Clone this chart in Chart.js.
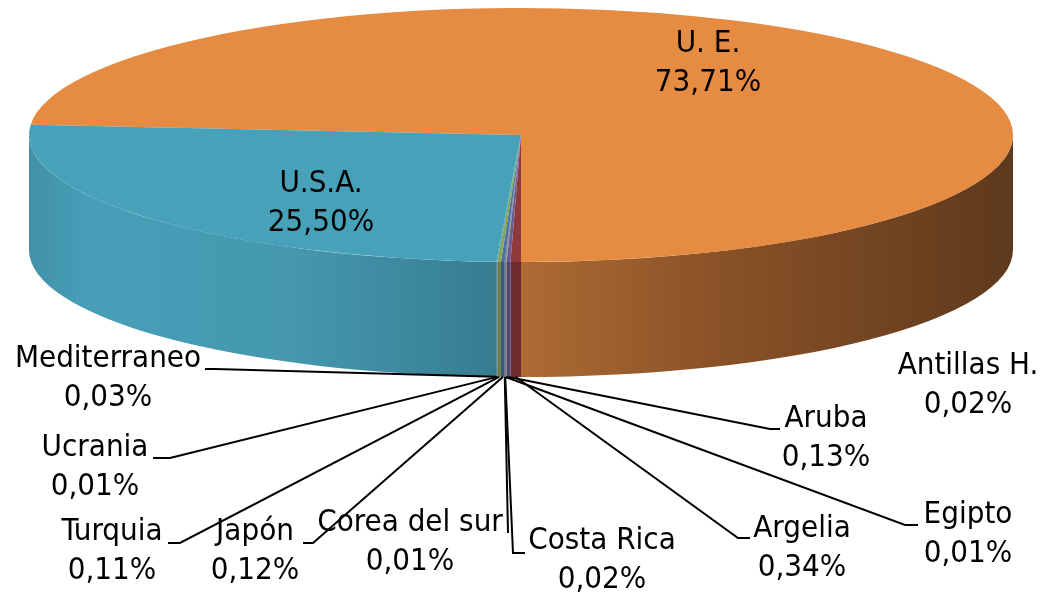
<!DOCTYPE html>
<html>
<head>
<meta charset="utf-8">
<script src="https://cdn.jsdelivr.net/npm/chart.js@4.4.1/dist/chart.umd.min.js"></script>
<style>
    html, body { margin: 0; padding: 0; background: #fff; }
    canvas { display: block; }
</style>
</head>
<body>
<canvas id="pieChart" width="1056" height="596"></canvas>
<script>
// --- DATA (clockwise, starting with U.E.) ---
const countries = ['U. E.', 'Argelia', 'Aruba', 'Antillas H.', 'Egipto', 'Costa Rica', 'Corea del sur', 'Japón', 'Turquia', 'Ucrania', 'Mediterraneo', 'U.S.A.'];
const shares = [73.71, 0.34, 0.13, 0.02, 0.01, 0.02, 0.01, 0.12, 0.11, 0.01, 0.03, 25.50];

// --- STYLE ---
const topColors = ['#E58B42', '#8E3A3A', '#6E5A94', '#7F9B4A', '#5B4A80', '#3F6EA0', '#A04440', '#4F6FA8', '#86A84E', '#6A5890', '#3D95AC', '#47A1B9'];
const sideColors = ['#A5652F', '#6E2B2B', '#54446F', '#61763A', '#463963', '#30547A', '#7A3330', '#3C5581', '#66803B', '#51436E', '#2F7385', '#377B8E'];
const FONT = '31px "DejaVu Sans Condensed", "DejaVu Sans", sans-serif';
const LINE_GAP = 39;

// pie drawn as an ellipse on the page, with a wall of `depth` px
const PIE = { cx: 521, cy: 135, rx: 492, ry: 127, depth: 115 };

// where each label sits (centre of first line) and its leader elbows
const labelSpots = {
    'U. E.': { x: 708, y: 44 },
    'U.S.A.': { x: 321, y: 184 },
    'Mediterraneo': { x: 108, y: 359, leader: [[215, 369], [205, 369]] },
    'Ucrania': { x: 95, y: 448, leader: [[170, 458], [153, 458]] },
    'Turquia': { x: 112, y: 532, leader: [[180, 543], [168, 543]] },
    'Japón': { x: 255, y: 532, leader: [[313, 543], [303, 543]] },
    'Corea del sur': { x: 410, y: 523, leader: [[508, 533]] },
    'Costa Rica': { x: 602, y: 541, leader: [[513, 553], [525, 553]] },
    'Argelia': { x: 802, y: 529, leader: [[738, 538], [750, 538]] },
    'Egipto': { x: 968, y: 515, leader: [[905, 525], [918, 525]] },
    'Aruba': { x: 826, y: 419, leader: [[770, 429], [780, 429]] },
    'Antillas H.': { x: 968, y: 366 }
};

const total = shares.reduce((a, b) => a + b, 0);

function fmtPct(v) {
    return v.toFixed(2).replace('.', ',') + '%';
}

function wallFill(ctx, i) {
    if (i === 0) {
        const g = ctx.createLinearGradient(PIE.cx, 0, PIE.cx + PIE.rx, 0);
        g.addColorStop(0, '#AD6B34');
        g.addColorStop(0.4, '#8A5227');
        g.addColorStop(1, '#5E391C');
        return g;
    }
    if (i === shares.length - 1) {
        const g = ctx.createLinearGradient(PIE.cx - PIE.rx, 0, PIE.cx, 0);
        g.addColorStop(0, '#4190A8');
        g.addColorStop(0.12, '#47A0B8');
        g.addColorStop(0.55, '#4497AE');
        g.addColorStop(0.85, '#3A8398');
        g.addColorStop(1, '#357789');
        return g;
    }
    return sideColors[i];
}

// --- 3D PLUGIN: walls first, then squash the library's arcs into the top face ---
const pie3d = {
    id: 'pie3d',
    beforeDatasetsDraw(chart) {
        const ctx = chart.ctx;
        const arcs = chart.getDatasetMeta(0).data;
        const TAU = Math.PI * 2;

        arcs.forEach((arc, i) => {
            const { startAngle, endAngle } = arc.getProps(['startAngle', 'endAngle'], true);
            for (let k = -1; k <= 2; k++) {
                const lo = Math.max(startAngle, k * TAU);
                const hi = Math.min(endAngle, k * TAU + Math.PI);
                if (hi <= lo) continue;
                ctx.beginPath();
                ctx.ellipse(PIE.cx, PIE.cy, PIE.rx, PIE.ry, 0, lo, hi);
                ctx.ellipse(PIE.cx, PIE.cy + PIE.depth, PIE.rx, PIE.ry, 0, hi, lo, true);
                ctx.closePath();
                ctx.fillStyle = wallFill(ctx, i);
                ctx.fill();
            }
        });

        const { x, y, outerRadius } = arcs[0].getProps(['x', 'y', 'outerRadius'], true);
        ctx.save();
        ctx.translate(PIE.cx, PIE.cy);
        ctx.scale(PIE.rx / outerRadius, PIE.ry / outerRadius);
        ctx.translate(-x, -y);
    },
    afterDatasetsDraw(chart) {
        const ctx = chart.ctx;
        ctx.restore();

        const arcs = chart.getDatasetMeta(0).data;
        ctx.save();
        ctx.font = FONT;
        ctx.fillStyle = '#000';
        ctx.strokeStyle = '#000';
        ctx.lineWidth = 2;
        ctx.textAlign = 'center';
        ctx.textBaseline = 'middle';

        countries.forEach((name, i) => {
            const spot = labelSpots[name];
            if (!spot) return;
            if (spot.leader) {
                const { startAngle, endAngle } = arcs[i].getProps(['startAngle', 'endAngle'], true);
                const mid = (startAngle + endAngle) / 2;
                const ax = PIE.cx + PIE.rx * Math.cos(mid);
                const ay = PIE.cy + PIE.depth + PIE.ry * Math.sin(mid);
                ctx.beginPath();
                ctx.moveTo(ax, ay);
                spot.leader.forEach(p => ctx.lineTo(p[0], p[1]));
                ctx.stroke();
            }
            ctx.fillText(name, spot.x, spot.y);
            ctx.fillText(fmtPct(shares[i]), spot.x, spot.y + LINE_GAP);
        });
        ctx.restore();
    }
};

new Chart(document.getElementById('pieChart'), {
    type: 'pie',
    data: {
        labels: countries,
        datasets: [{
            data: shares,
            backgroundColor: topColors,
            borderWidth: 0,
            clip: false
        }]
    },
    options: {
        responsive: false,
        animation: false,
        // U.E. ends straight at the front (6 o'clock)
        rotation: 180 - shares[0] / total * 360,
        layout: { padding: 0 },
        plugins: {
            legend: { display: false },
            tooltip: { enabled: false }
        }
    },
    plugins: [pie3d]
});
</script>
</body>
</html>
